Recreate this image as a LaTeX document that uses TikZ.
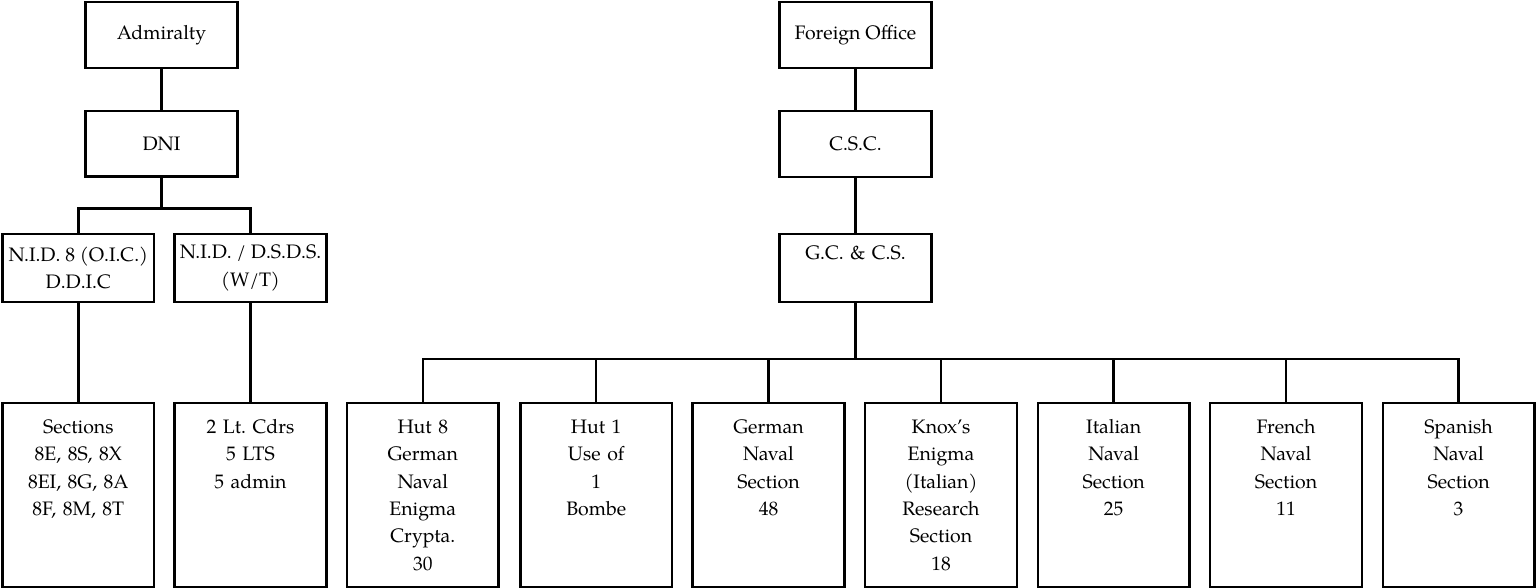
\documentclass[tikz,border=0pt]{standalone}
\usepackage{fontspec}
\setmainfont{texgyrepagella}[Extension=.otf,UprightFont=*-regular,BoldFont=*-bold,ItalicFont=*-italic]
\frenchspacing
\tikzset{
  box/.style={draw, line width=2.5pt, minimum width=151.6pt, inner sep=0pt, outer sep=0pt,
    font=\fontsize{19.5}{27.35}\selectfont, align=center},
  topbox/.style={box, minimum height=65.8pt},
  midbox/.style={box, minimum height=67.6pt},
  bigbox/.style={box, minimum height=183.9pt},
  lbl/.style={font=\fontsize{19.5}{27.35}\selectfont, text width=150pt, align=center, anchor=base, inner sep=0pt},
  conn/.style={line width=2.5pt}
}
\begin{document}
\begin{tikzpicture}[x=1pt,y=-1pt]
\useasboundingbox (0,0) rectangle (1537,588);
% left tree
\node[topbox] (adm) at (161.5,35) {Admiralty};
\node[topbox] (dni) at (161.5,143.7) {DNI};
\node[midbox] (nid8) at (78.3,268) {N.I.D. 8 (O.I.C.)\\D.D.I.C};
\node[midbox] (nidw) at (250.5,268) {N.I.D. / D.S.D.S.\\(W/T)};
% right tree
\node[topbox] (fo) at (855.5,35) {Foreign Office};
\node[topbox] (csc) at (855.5,144) {C.S.C.};
\node[midbox] (gccs) at (855.5,268) {};
\node[lbl] (gccst) at (855.5,260) {G.C. \& C.S.};
% bottom boxes
\node[bigbox] (sec) at (78.3,494.9) {};
\node[bigbox] (lt) at (250.5,494.9) {};
\node[bigbox] (h8) at (422.8,494.9) {};
\node[bigbox] (h1) at (596.2,494.9) {};
\node[bigbox] (gns) at (768.5,494.9) {};
\node[bigbox] (knox) at (941,494.9) {};
\node[bigbox] (ita) at (1113.7,494.9) {};
\node[bigbox] (fre) at (1286,494.9) {};
\node[bigbox] (spa) at (1458.6,494.9) {};
\node[lbl] (sect) at (78.3,433.5) {Sections\\8E, 8S, 8X\\8EI, 8G, 8A\\8F, 8M, 8T};
\node[lbl] (ltt) at (250.5,433.5) {2 Lt. Cdrs\\5 LTS\\5 admin};
\node[lbl] (h8t) at (422.8,433.5) {Hut 8\\German\\Naval\\Enigma\\Crypta.\\30};
\node[lbl] (h1t) at (596.2,433.5) {Hut 1\\Use of\\1\\Bombe};
\node[lbl] (gnst) at (768.5,433.5) {German\\Naval\\Section\\48};
\node[lbl] (knoxt) at (941,433.5) {Knox’s\\Enigma\\(Italian)\\Research\\Section\\18};
\node[lbl] (itat) at (1113.7,433.5) {Italian\\Naval\\Section\\25};
\node[lbl] (fret) at (1286,433.5) {French\\Naval\\Section\\11};
\node[lbl] (spat) at (1458.6,433.5) {Spanish\\Naval\\Section\\3};
% connectors
\coordinate (busL) at (161.5,208.3);
\coordinate (busR) at (855.5,359);
\draw[conn] (adm) -- (dni);
\draw[conn] (dni.south) -- (busL);
\draw[conn] (nid8.north) |- (busL) -| (nidw.north);
\draw[conn] (nid8) -- (sec);
\draw[conn] (nidw) -- (lt);
\draw[conn] (fo) -- (csc);
\draw[conn] (csc) -- (gccs);
\draw[conn] (gccs.south) -- (busR);
\draw[conn] (h8.north) |- (busR) -| (spa.north);
\foreach \n in {h1,gns,knox,ita,fre}
  \draw[conn] (\n.north) -- (\n.north |- busR);
\end{tikzpicture}
\end{document}
